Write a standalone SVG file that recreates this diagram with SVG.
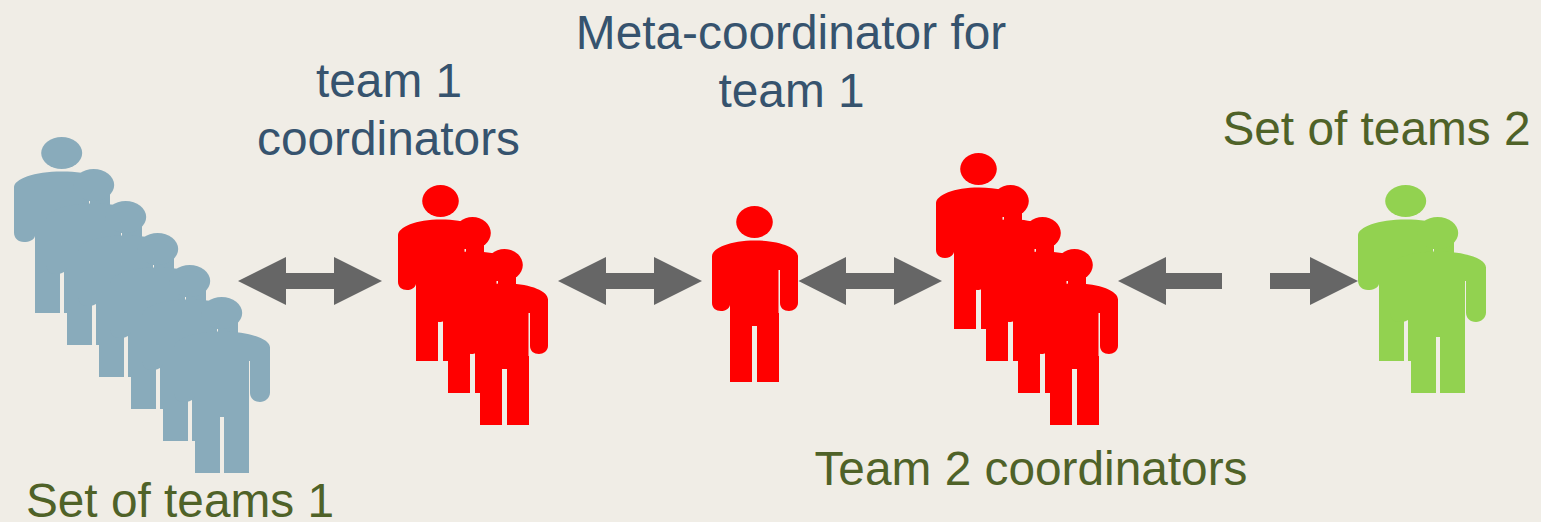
<svg xmlns="http://www.w3.org/2000/svg" width="1541" height="522" viewBox="0 0 1541 522">
<style>
text{font-family:"Liberation Sans",Arial,sans-serif;font-size:47.8px;text-anchor:middle}
.b{fill:#36536e}.o{fill:#4f6228}
.blue{fill:#89abbb}.red{fill:#ff0000}.green{fill:#92d250}
.arrow{fill:#666666}
</style>
<defs>
<g id="p">
<ellipse cx="42.500" cy="16" rx="18.300" ry="16"/>
<path d="M0 50.500C0 42 18 34.500 43 34.500C68 34.500 86 42 86 50.500V97C86 102 81 105 77 105C72 105 68 102 68 97V64H66.500V107H67V176H45V120H40V176H18V99C17 103 13 105 9 105C4 105 0 102 0 97Z"/>
</g>
<g id="q">
<ellipse cx="47.700" cy="16" rx="20.500" ry="16"/>
<path d="M0 50.500C0 42 20 34.500 48 34.500C76 34.500 96 42 96 50.500V95.500C96 101 91 105 86 105C80 105 76 101 76 95.500V64H75V176H50V120H46V176H21V99C20 103 15 105 10 105C4 105 0 101 0 95.500Z"/>
</g>
</defs>
<rect width="1541" height="522" fill="#f0ede6"/>
<g id="connectors" class="arrow">
<path d="M238 281L286 257V273H334V257L382 281L334 305V289H286V305Z"/>
<path d="M558 281L606 257V273H654V257L702 281L654 305V289H606V305Z"/>
<path d="M798.500 281L846 257V273H894V257L942 281L894 305V289H846V305Z"/>
<path d="M1118 281L1166 257V273H1222V289H1166V305Z"/>
<path d="M1358 281L1310 257V273H1270V289H1310V305Z"/>
</g>
<g id="teams1" class="blue">
<use href="#q" transform="translate(14 137)"/>
<use href="#q" transform="translate(46 169)"/>
<use href="#q" transform="translate(78 201)"/>
<use href="#q" transform="translate(110 233)"/>
<use href="#q" transform="translate(142 265)"/>
<use href="#q" transform="translate(174 297)"/>
</g>
<g id="coordinators1" class="red">
<use href="#p" transform="translate(398 185)"/>
<use href="#p" transform="translate(430 217)"/>
<use href="#p" transform="translate(462 249)"/>
</g>
<g id="meta" class="red"><use href="#p" transform="translate(712 206)"/></g>
<g id="coordinators2" class="red">
<use href="#p" transform="translate(936 153)"/>
<use href="#p" transform="translate(968 185)"/>
<use href="#p" transform="translate(1000 217)"/>
<use href="#p" transform="translate(1032 249)"/>
</g>
<g id="teams2" class="green">
<use href="#q" transform="translate(1358 185)"/>
<use href="#q" transform="translate(1390 217)"/>
</g>
<g id="labels">
<text class="b" x="791" y="48.500">Meta-coordinator for</text>
<text class="b" x="791.500" y="106.500">team 1</text>
<text class="b" x="389" y="97">team 1</text>
<text class="b" x="388.500" y="154.500">coordinators</text>
<text class="o" x="1376.500" y="145">Set of teams 2</text>
<text class="o" x="1031" y="485">Team 2 coordinators</text>
<text class="o" x="180" y="517">Set of teams 1</text>
</g>
</svg>
